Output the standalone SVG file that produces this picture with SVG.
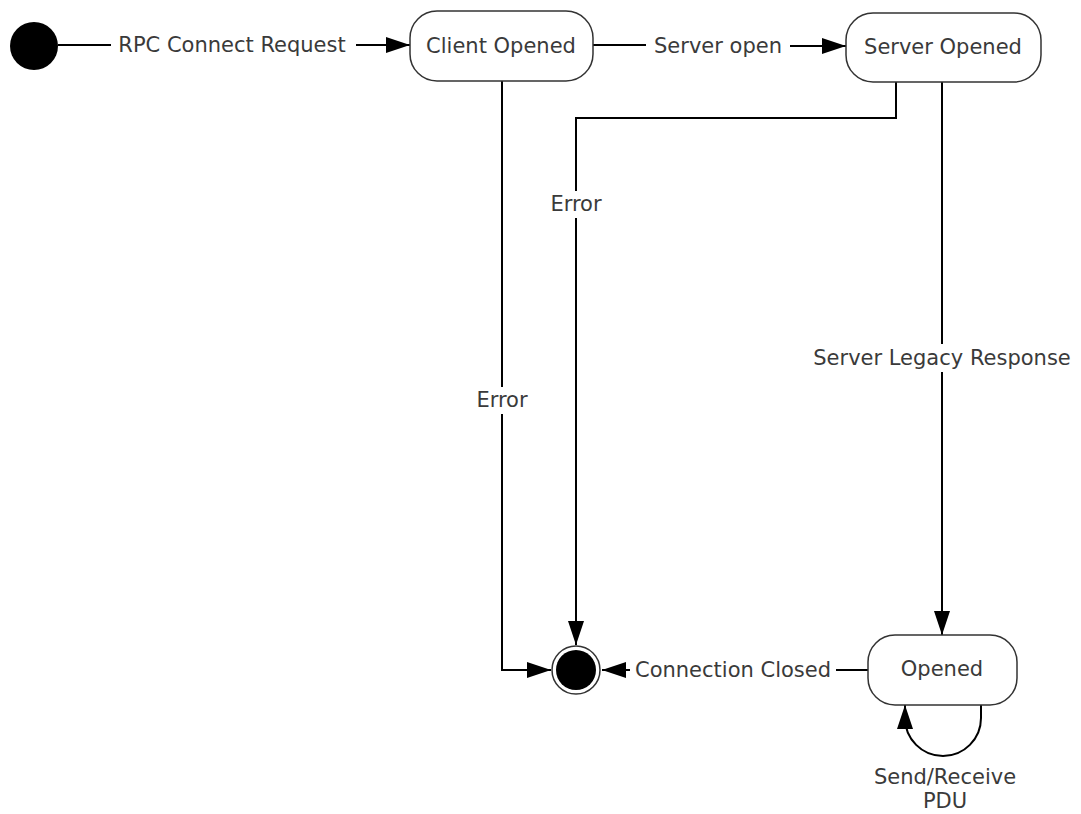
<svg xmlns="http://www.w3.org/2000/svg" width="1081" height="814" viewBox="0 0 1081 814">
<style>
.state{fill:#fff;stroke:#333;stroke-width:1.5}
.lbl{font-family:"DejaVu Sans","Liberation Sans",sans-serif;font-size:21px;fill:#3a3a3a;text-anchor:middle;dominant-baseline:central}
.edge{fill:none;stroke:#000;stroke-width:2}
</style>
<defs>
<marker id="arr" markerUnits="userSpaceOnUse" markerWidth="24" markerHeight="16" refX="24" refY="8" orient="auto" viewBox="0 0 24 16">
<path d="M0,0 L24,8 L0,16 z" fill="#000"/>
</marker>
</defs>
<rect width="1081" height="814" fill="#fff"/>
<g id="connectors">
<path class="edge" d="M58,45 L111,45"/>
<text class="lbl" x="232" y="45">RPC Connect Request</text>
<path class="edge" d="M356,45 L410,45" marker-end="url(#arr)"/>
<path class="edge" d="M593,45 L646,45"/>
<text class="lbl" x="718" y="46">Server open</text>
<path class="edge" d="M790,46 L846,46" marker-end="url(#arr)"/>
<path class="edge" d="M502,81 L502,387"/>
<text class="lbl" x="502" y="400">Error</text>
<path class="edge" d="M502,414 L502,670 L551,670" marker-end="url(#arr)"/>
<path class="edge" d="M896,82 L896,118 L576,118 L576,191"/>
<text class="lbl" x="576" y="204">Error</text>
<path class="edge" d="M576,218 L576,645" marker-end="url(#arr)"/>
<path class="edge" d="M942,82 L942,344"/>
<text class="lbl" x="942" y="358">Server Legacy Response</text>
<path class="edge" d="M942,372 L942,635" marker-end="url(#arr)"/>
<path class="edge" d="M868,670 L836,670"/>
<text class="lbl" x="733" y="670">Connection Closed</text>
<path class="edge" d="M630,670 L602,670" marker-end="url(#arr)"/>
<path class="edge" d="M981,705 L981,718 A38,38 0 0 1 905,718 L905,705" marker-end="url(#arr)"/>
<text class="lbl" x="945" y="777">Send/Receive</text>
<text class="lbl" x="945" y="801">PDU</text>
</g>
<g id="initial">
<circle cx="34" cy="46" r="24" fill="#000"/>
</g>
<g id="client-opened">
<rect class="state" x="410" y="11" width="183" height="70" rx="27" ry="27"/>
<text class="lbl" x="501" y="46">Client Opened</text>
</g>
<g id="server-opened">
<rect class="state" x="846" y="13" width="195" height="69" rx="27" ry="27"/>
<text class="lbl" x="943" y="47">Server Opened</text>
</g>
<g id="opened">
<rect class="state" x="868" y="635" width="149" height="70" rx="27" ry="27"/>
<text class="lbl" x="942" y="669">Opened</text>
</g>
<g id="final">
<circle cx="576" cy="670" r="24" fill="#fff" stroke="#333" stroke-width="1.5"/>
<circle cx="576" cy="670" r="20" fill="#000"/>
</g>
</svg>
